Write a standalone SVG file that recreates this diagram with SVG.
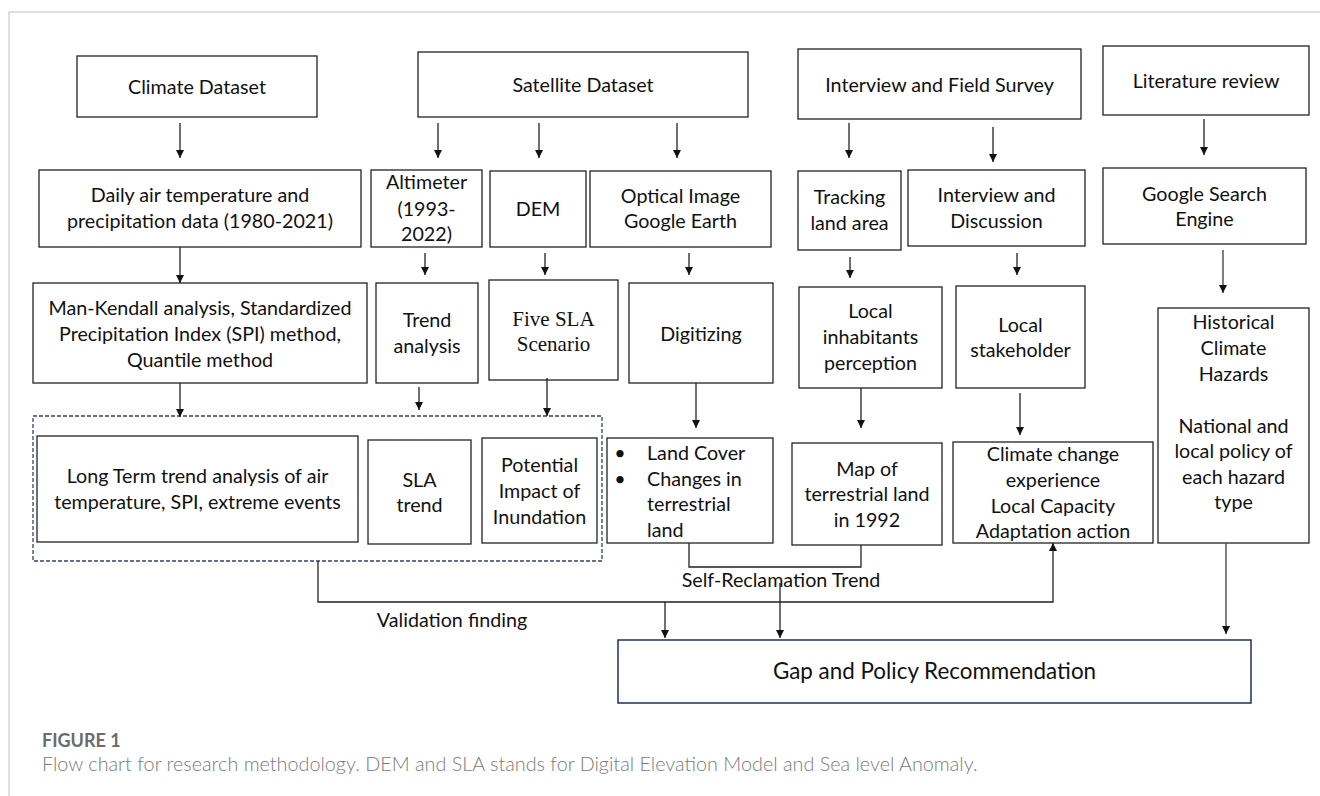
<svg xmlns="http://www.w3.org/2000/svg" width="1320" height="796" viewBox="0 0 1320 796">
<style>
.box{fill:#fff;stroke:#222;stroke-width:1.3}
.t{font-family:Lato,"Open Sans","Liberation Sans",sans-serif;font-size:19.7px;fill:#111;text-anchor:middle}
.s{font-family:"Liberation Serif","DejaVu Serif",serif;font-size:21px;fill:#111;text-anchor:middle}
.l{fill:none;stroke:#222;stroke-width:1.3}
.g{fill:none;stroke:#555;stroke-width:1.5}
.a{marker-end:url(#ah)}
</style>
<defs>
<marker id="ah" markerUnits="userSpaceOnUse" markerWidth="9" markerHeight="8" refX="8" refY="4" orient="auto"><path d="M0,0 L8,4 L0,8 z" fill="#111"/></marker>
</defs>
<rect width="1320" height="796" fill="#fff"/>
<path d="M9,796 V12 H1320" fill="none" stroke="#d4d4d4" stroke-width="1.5"/>

<g id="climate-dataset"><rect class="box" x="77" y="56" width="240" height="61"/><text class="t" x="197" y="94">Climate Dataset</text></g>
<g id="satellite-dataset"><rect class="box" x="418" y="52" width="330" height="65"/><text class="t" x="583" y="92">Satellite Dataset</text></g>
<g id="interview-field"><rect class="box" x="798" y="49" width="283" height="70"/><text class="t" x="939.5" y="92">Interview and Field Survey</text></g>
<g id="literature-review"><rect class="box" x="1103" y="46" width="206" height="69"/><text class="t" x="1206" y="88">Literature review</text></g>

<g id="daily-air"><rect class="box" x="39" y="170" width="322" height="77"/><text class="t" x="200" y="202">Daily air temperature and</text><text class="t" x="200" y="228">precipitation data (1980-2021)</text></g>
<g id="altimeter"><rect class="box" x="371" y="170" width="111" height="77"/><text class="t" x="426.5" y="189">Altimeter</text><text class="t" x="426.5" y="216">(1993-</text><text class="t" x="426.5" y="241">2022)</text></g>
<g id="dem"><rect class="box" x="490" y="171" width="96" height="76"/><text class="t" x="538" y="216">DEM</text></g>
<g id="optical"><rect class="box" x="590" y="171" width="181" height="76"/><text class="t" x="680.5" y="203">Optical Image</text><text class="t" x="680.5" y="228">Google Earth</text></g>
<g id="tracking"><rect class="box" x="798" y="171" width="103" height="79"/><text class="t" x="849.5" y="204">Tracking</text><text class="t" x="849.5" y="230">land area</text></g>
<g id="interview-discussion"><rect class="box" x="908" y="170" width="177" height="76"/><text class="t" x="996.5" y="202">Interview and</text><text class="t" x="996.5" y="228">Discussion</text></g>
<g id="google-search"><rect class="box" x="1103" y="168" width="203" height="76"/><text class="t" x="1204.5" y="201">Google Search</text><text class="t" x="1204.5" y="226">Engine</text></g>

<g id="man-kendall"><rect class="box" x="33" y="283" width="334" height="100"/><text class="t" x="200" y="315">Man-Kendall analysis, Standardized</text><text class="t" x="200" y="341">Precipitation Index (SPI) method,</text><text class="t" x="200" y="367">Quantile method</text></g>
<g id="trend-analysis"><rect class="box" x="376" y="283" width="102" height="100"/><text class="t" x="427" y="327">Trend</text><text class="t" x="427" y="353">analysis</text></g>
<g id="five-sla"><rect class="box" x="489" y="280" width="129" height="100"/><text class="s" x="553.5" y="326">Five SLA</text><text class="s" x="553.5" y="351">Scenario</text></g>
<g id="digitizing"><rect class="box" x="629" y="283" width="144" height="100"/><text class="t" x="701" y="341">Digitizing</text></g>
<g id="local-inhabitants"><rect class="box" x="799" y="287" width="143" height="101"/><text class="t" x="870.5" y="318">Local</text><text class="t" x="870.5" y="344">inhabitants</text><text class="t" x="870.5" y="370">perception</text></g>
<g id="local-stakeholder"><rect class="box" x="956" y="286" width="129" height="102"/><text class="t" x="1020.5" y="332">Local</text><text class="t" x="1020.5" y="357">stakeholder</text></g>
<g id="historical"><rect class="box" x="1158" y="308" width="151" height="235"/><text class="t" x="1233.5" y="329">Historical</text><text class="t" x="1233.5" y="355">Climate</text><text class="t" x="1233.5" y="381">Hazards</text><text class="t" x="1233.5" y="433">National and</text><text class="t" x="1233.5" y="458">local policy of</text><text class="t" x="1233.5" y="484">each hazard</text><text class="t" x="1233.5" y="509">type</text></g>

<g id="analysis-group"><rect x="33" y="416" width="569" height="145" fill="none" stroke="#2f4468" stroke-width="1.3" stroke-dasharray="4 2"/></g>
<g id="long-term"><rect class="box" x="37" y="436" width="321" height="106"/><text class="t" x="197.5" y="483">Long Term trend analysis of air</text><text class="t" x="197.5" y="509">temperature, SPI, extreme events</text></g>
<g id="sla-trend"><rect class="box" x="368" y="440" width="103" height="104"/><text class="t" x="419.5" y="487">SLA</text><text class="t" x="419.5" y="512">trend</text></g>
<g id="potential-impact"><rect class="box" x="482" y="438" width="115" height="105"/><text class="t" x="539.5" y="472">Potential</text><text class="t" x="539.5" y="498">Impact of</text><text class="t" x="539.5" y="524">Inundation</text></g>
<g id="land-cover"><rect class="box" x="607" y="438" width="166" height="105"/><text class="t" x="620" y="460">•</text><text class="t" x="620" y="486">•</text><text class="t" style="text-anchor:start" x="647" y="460">Land Cover</text><text class="t" style="text-anchor:start" x="647" y="486">Changes in</text><text class="t" style="text-anchor:start" x="647" y="511">terrestrial</text><text class="t" style="text-anchor:start" x="647" y="537">land</text></g>
<g id="map-terrestrial"><rect class="box" x="792" y="443" width="150" height="102"/><text class="t" x="867" y="476">Map of</text><text class="t" x="867" y="501">terrestrial land</text><text class="t" x="867" y="527">in 1992</text></g>
<g id="climate-change"><rect class="box" x="953" y="442" width="200" height="101"/><text class="t" x="1053" y="461">Climate change</text><text class="t" x="1053" y="487">experience</text><text class="t" x="1053" y="513">Local Capacity</text><text class="t" x="1053" y="538">Adaptation action</text></g>
<g id="gap-policy"><rect x="618" y="640" width="633" height="63" fill="#fff" stroke="#1f2f5c" stroke-width="1.5"/><text class="t" style="font-size:22.4px" x="934.5" y="679">Gap and Policy Recommendation</text></g>

<g id="connectors">
<path class="l a" d="M180,123 V158"/>
<path class="l a" d="M438,123 V158"/>
<path class="l a" d="M539,123 V158"/>
<path class="l a" d="M677,123 V158"/>
<path class="l a" d="M849,123 V158"/>
<path class="l a" d="M993,127 V162"/>
<path class="l a" d="M1204,119 V155"/>
<path class="l a" d="M180,247 V283"/>
<path class="l a" d="M425,253 V275"/>
<path class="l a" d="M545,253 V275"/>
<path class="l a" d="M689,253 V275"/>
<path class="l a" d="M850,257 V278"/>
<path class="l a" d="M1017,253 V275"/>
<path class="g a" d="M1223,250 V293"/>
<path class="l a" d="M180,383 V417"/>
<path class="l a" d="M419,387 V410"/>
<path class="l a" d="M547,378 V416"/>
<path class="l a" d="M696,383 V428"/>
<path class="l a" d="M861,388 V428"/>
<path class="l a" d="M1020,393 V435"/>
<path class="l" d="M689,543 V567 H861 V545"/>
<path class="l a" d="M318,561 V602 H1053 V543"/>
<path class="l a" d="M665,602 V638"/>
<path class="l a" d="M780,583 V638"/>
<path class="g a" d="M1226,543 V634"/>
<text class="t" x="781" y="587">Self-Reclamation Trend</text>
<text class="t" x="452" y="627">Validation finding</text>
</g>

<text x="42" y="747" font-family="Lato,'Open Sans',sans-serif" font-weight="700" font-size="18" fill="#6b6b6b">FIGURE 1</text>
<text x="42" y="771" font-family="Lato,'Open Sans',sans-serif" font-weight="300" font-size="19.8" fill="#7a7a7a">Flow chart for research methodology. DEM and SLA stands for Digital Elevation Model and Sea level Anomaly.</text>
</svg>
